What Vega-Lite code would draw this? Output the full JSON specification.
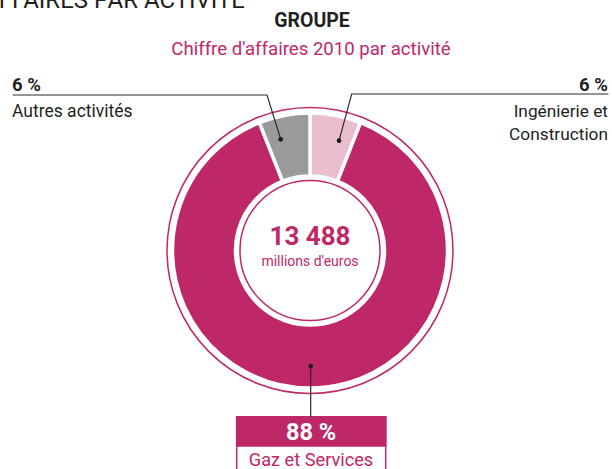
{
  "$schema": "https://vega.github.io/schema/vega-lite/v6.json",
  "autosize": {"type": "none"},
  "padding": {"left": 8, "top": 32, "right": 0, "bottom": 0},
  "width": 604,
  "height": 437,
  "background": "white",
  "config": {"view": {"stroke": null}, "text": {"font": "Roboto, DejaVu Sans Condensed, sans-serif", "baseline": "alphabetic"}},
  "datasets": {
    "parts": [
      {"activite": "Ingénierie et Construction", "pct": 6, "ordre": 1},
      {"activite": "Gaz et Services", "pct": 88, "ordre": 2},
      {"activite": "Autres activités", "pct": 6, "ordre": 3}
    ],
    "rings": [{"anneau": "outer", "v": 100}],
    "texts": [
      {"t": "D'AFFAIRES PAR ACTIVITÉ", "x": -65, "y": 242.5, "k": "header"},
      {"t": "GROUPE", "x": 2, "y": 223.5, "k": "title"},
      {"t": "Chiffre d'affaires 2010 par activité", "x": 1, "y": 195.5, "k": "subtitle"},
      {"t": "6 %", "x": -298, "y": 159.5, "k": "pctL"},
      {"t": "Autres activités", "x": -298, "y": 133.5, "k": "labL"},
      {"t": "6 %", "x": 298, "y": 159.5, "k": "pctR"},
      {"t": "Ingénierie et", "x": 298, "y": 133.5, "k": "labR"},
      {"t": "Construction", "x": 298, "y": 110.5, "k": "labR"},
      {"t": "13 488", "x": 0, "y": 5.5, "k": "total"},
      {"t": "millions d'euros", "x": 0, "y": -15.5, "k": "unit"},
      {"t": "88 %", "x": 1, "y": -189.5, "k": "pctB"},
      {"t": "Gaz et Services", "x": 1, "y": -215.5, "k": "labB"}
    ],
    "leaders": [
      {"g": "L", "i": 1, "x": -297.3, "y": 155.5},
      {"g": "L", "i": 2, "x": -43, "y": 155.5},
      {"g": "L", "i": 3, "x": -29.3, "y": 111.2},
      {"g": "R", "i": 1, "x": 298.3, "y": 156.5},
      {"g": "R", "i": 2, "x": 41.7, "y": 156.5},
      {"g": "R", "i": 3, "x": 29, "y": 109.8},
      {"g": "B", "i": 1, "x": 0.7, "y": -115.5},
      {"g": "B", "i": 2, "x": 0.7, "y": -166.2}
    ],
    "dots": [
      {"x": -29.3, "y": 111.2},
      {"x": 29, "y": 109.8},
      {"x": 0.7, "y": -115.5}
    ],
    "boxes": [
      {"k": "frame", "x": -73.3, "x2": 75.7, "y": -166.2, "y2": -230},
      {"k": "band", "x": -73.3, "x2": 75.7, "y": -166.2, "y2": -195.5}
    ]
  },
  "encoding": {
    "x": {"field": "x", "type": "quantitative", "scale": {"domain": [-302, 302], "nice": false, "zero": false}, "axis": null},
    "y": {"field": "y", "type": "quantitative", "scale": {"domain": [-218.5, 218.5], "nice": false, "zero": false}, "axis": null}
  },
  "resolve": {"scale": {"theta": "independent", "color": "independent"}},
  "layer": [
    {
      "data": {"name": "parts"},
      "mark": {"type": "arc", "outerRadius": 137.5, "innerRadius": 74.5, "stroke": "white", "strokeWidth": 3.5},
      "encoding": {
        "x": null, "y": null,
        "theta": {"field": "pct", "type": "quantitative", "stack": true},
        "order": {"field": "ordre", "type": "quantitative"},
        "color": {
          "field": "activite", "type": "nominal", "legend": null,
          "scale": {"domain": ["Ingénierie et Construction", "Gaz et Services", "Autres activités"], "range": ["#EABECE", "#BE2869", "#9A9A9C"]}
        }
      }
    },
    {
      "data": {"name": "rings"},
      "mark": {"type": "arc", "outerRadius": 143, "innerRadius": 0, "fill": null, "stroke": "#BE2869", "strokeWidth": 1.5},
      "encoding": {"x": null, "y": null, "theta": {"field": "v", "type": "quantitative"}}
    },
    {
      "data": {"name": "rings"},
      "mark": {"type": "arc", "outerRadius": 70, "innerRadius": 0, "fill": null, "stroke": "#BE2869", "strokeWidth": 1.5},
      "encoding": {"x": null, "y": null, "theta": {"field": "v", "type": "quantitative"}}
    },
    {
      "data": {"name": "boxes"},
      "mark": {"type": "rect", "strokeWidth": 1.5, "stroke": "#BE2869"},
      "encoding": {
        "x2": {"field": "x2"},
        "y2": {"field": "y2"},
        "fill": {"field": "k", "type": "nominal", "legend": null, "scale": {"domain": ["frame", "band"], "range": ["#FFFFFF", "#BE2869"]}}
      }
    },
    {
      "data": {"name": "leaders"},
      "mark": {"type": "line", "stroke": "#2B2B2B", "strokeWidth": 1.2},
      "encoding": {
        "detail": {"field": "g", "type": "nominal"},
        "order": {"field": "i", "type": "quantitative"}
      }
    },
    {
      "data": {"name": "dots"},
      "mark": {"type": "point", "filled": true, "shape": "circle", "size": 22, "color": "#1A1A1A", "opacity": 1},
      "encoding": {}
    },
    {"data": {"name": "texts"}, "transform": [{"filter": "datum.k === 'header'"}],
     "mark": {"type": "text", "align": "right", "fontSize": 24, "color": "#231F20"}, "encoding": {"text": {"field": "t"}}},
    {"data": {"name": "texts"}, "transform": [{"filter": "datum.k === 'title'"}],
     "mark": {"type": "text", "align": "center", "fontSize": 19.5, "fontWeight": "bold", "color": "#231F20"}, "encoding": {"text": {"field": "t"}}},
    {"data": {"name": "texts"}, "transform": [{"filter": "datum.k === 'subtitle'"}],
     "mark": {"type": "text", "align": "center", "fontSize": 18.6, "color": "#BE2869"}, "encoding": {"text": {"field": "t"}}},
    {"data": {"name": "texts"}, "transform": [{"filter": "datum.k === 'pctL'"}],
     "mark": {"type": "text", "align": "left", "fontSize": 18.5, "fontWeight": "bold", "color": "#231F20"}, "encoding": {"text": {"field": "t"}}},
    {"data": {"name": "texts"}, "transform": [{"filter": "datum.k === 'labL'"}],
     "mark": {"type": "text", "align": "left", "fontSize": 17.5, "color": "#231F20"}, "encoding": {"text": {"field": "t"}}},
    {"data": {"name": "texts"}, "transform": [{"filter": "datum.k === 'pctR'"}],
     "mark": {"type": "text", "align": "right", "fontSize": 18.5, "fontWeight": "bold", "color": "#231F20"}, "encoding": {"text": {"field": "t"}}},
    {"data": {"name": "texts"}, "transform": [{"filter": "datum.k === 'labR'"}],
     "mark": {"type": "text", "align": "right", "fontSize": 17.3, "color": "#231F20"}, "encoding": {"text": {"field": "t"}}},
    {"data": {"name": "texts"}, "transform": [{"filter": "datum.k === 'total'"}],
     "mark": {"type": "text", "align": "center", "fontSize": 26, "fontWeight": "bold", "color": "#BE2869"}, "encoding": {"text": {"field": "t"}}},
    {"data": {"name": "texts"}, "transform": [{"filter": "datum.k === 'unit'"}],
     "mark": {"type": "text", "align": "center", "fontSize": 14, "color": "#BE2869"}, "encoding": {"text": {"field": "t"}}},
    {"data": {"name": "texts"}, "transform": [{"filter": "datum.k === 'pctB'"}],
     "mark": {"type": "text", "align": "center", "fontSize": 23.5, "fontWeight": "bold", "color": "#FFFFFF"}, "encoding": {"text": {"field": "t"}}},
    {"data": {"name": "texts"}, "transform": [{"filter": "datum.k === 'labB'"}],
     "mark": {"type": "text", "align": "center", "fontSize": 18.2, "color": "#BE2869"}, "encoding": {"text": {"field": "t"}}}
  ]
}
